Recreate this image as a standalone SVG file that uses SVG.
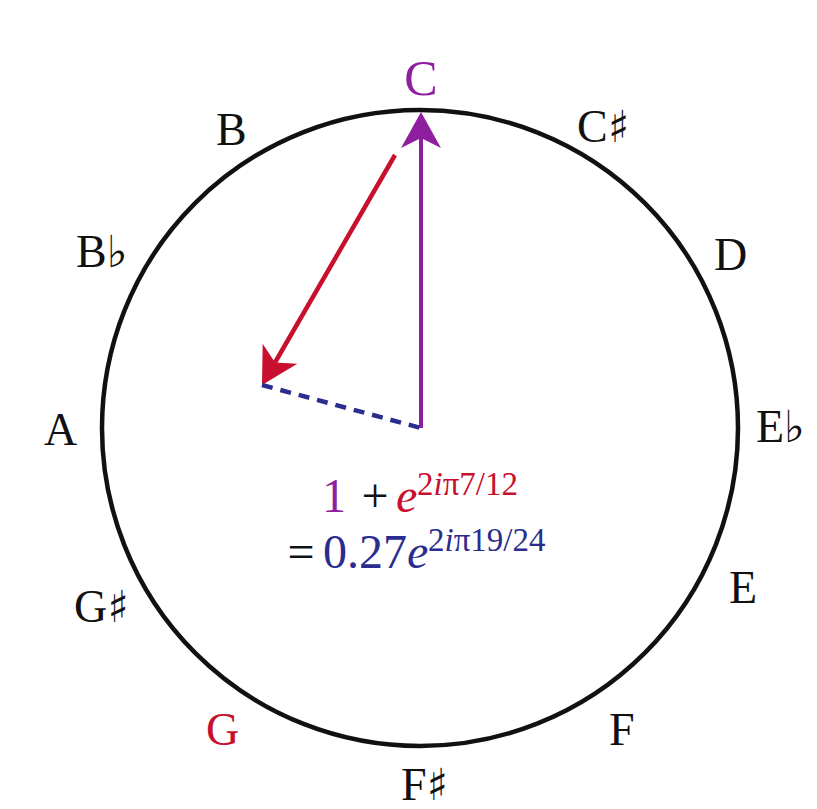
<svg xmlns="http://www.w3.org/2000/svg" xmlns:xlink="http://www.w3.org/1999/xlink" width="817" height="809" viewBox="0 0 817 809">
  <style>
    .lbl { font-family: "Liberation Serif", "DejaVu Serif", serif; font-size: 46px; fill: #111; }
    .acc { font-family: "DejaVu Sans", "Noto Sans", sans-serif; font-size: 44px; }
    .f { font-family: "Liberation Serif", "DejaVu Serif", serif; font-size: 48px; }
    .sup { font-family: "Liberation Serif", "DejaVu Serif", serif; font-size: 33px; }
    .it { font-style: italic; }
    .purple { fill: #8E1F9E; }
    .red { fill: #C8102E; }
    .blue { fill: #2B2D8E; }
  </style>
  <defs>
    <path id="head" d="M0,0 L-36,-20 L-26,0 L-36,20 Z"/>
  </defs>
  <rect width="817" height="809" fill="#ffffff"/>

  <g id="circle">
    <circle cx="420" cy="428" r="318" fill="none" stroke="#111" stroke-width="4.5"/>
  </g>

  <g id="connectors">
    <line x1="421" y1="428" x2="421" y2="138" stroke="#8E1F9E" stroke-width="4"/>
    <use xlink:href="#head" href="#head" transform="translate(421,112) rotate(-90)" fill="#8E1F9E"/>
    <line x1="395" y1="155" x2="275" y2="362.5" stroke="#C8102E" stroke-width="4.5"/>
    <use xlink:href="#head" href="#head" transform="translate(262,385) rotate(120)" fill="#C8102E"/>
    <line x1="262" y1="385" x2="421" y2="428" stroke="#2B2D8E" stroke-width="4.5" stroke-dasharray="11 8"/>
  </g>

  <g id="labels">
    <g id="n-C"><text class="lbl purple" x="421" y="95" text-anchor="middle" style="font-size:50px">C</text></g>
    <g id="n-Cs"><text class="lbl" x="577" y="142">C<tspan class="acc">♯</tspan></text></g>
    <g id="n-D"><text class="lbl" x="714" y="270">D</text></g>
    <g id="n-Eb"><text class="lbl" x="756" y="442">E<tspan class="acc">♭</tspan></text></g>
    <g id="n-E"><text class="lbl" x="729" y="603">E</text></g>
    <g id="n-F"><text class="lbl" x="609" y="745">F</text></g>
    <g id="n-Fs"><text class="lbl" x="401" y="800">F<tspan class="acc">♯</tspan></text></g>
    <g id="n-G"><text class="lbl red" x="206" y="745">G</text></g>
    <g id="n-Gs"><text class="lbl" x="74" y="622">G<tspan class="acc">♯</tspan></text></g>
    <g id="n-A"><text class="lbl" x="44" y="445">A</text></g>
    <g id="n-Bb"><text class="lbl" x="76" y="267">B<tspan class="acc">♭</tspan></text></g>
    <g id="n-B"><text class="lbl" x="216" y="145">B</text></g>
  </g>

  <g id="formula">
    <text class="f purple" x="322" y="512">1</text>
    <text class="f" x="375" y="512" text-anchor="middle" fill="#111">+</text>
    <text class="f it red" x="396" y="512">e</text>
    <text class="sup red" x="417" y="495">2<tspan class="it">i</tspan>π7/12</text>

    <text class="f" x="301" y="568" text-anchor="middle" fill="#111">=</text>
    <text class="f blue" x="323" y="568">0.27<tspan class="it">e</tspan></text>
    <text class="sup blue" x="428" y="551">2<tspan class="it">i</tspan>π19/24</text>
  </g>
</svg>
